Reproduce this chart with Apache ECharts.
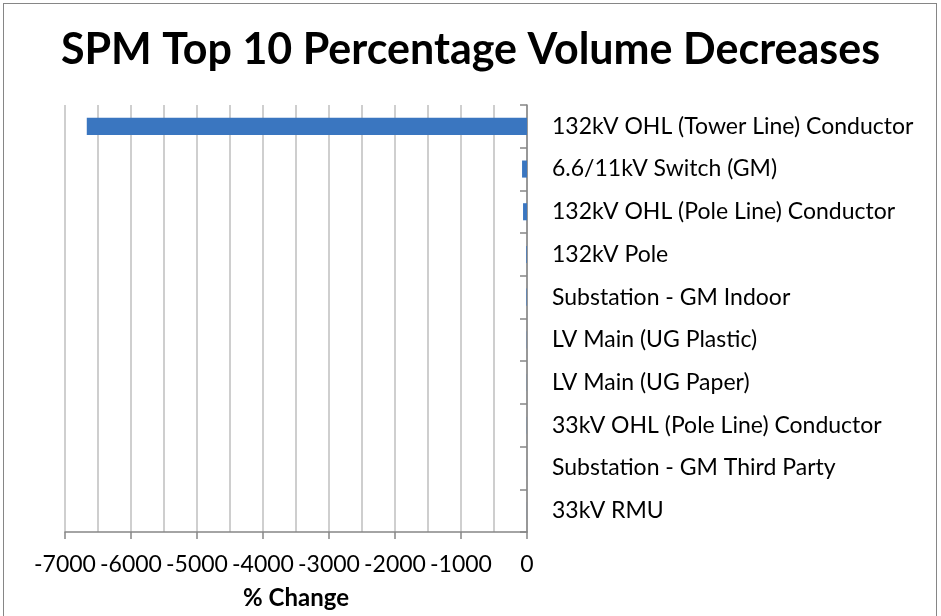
<!DOCTYPE html>
<html>
<head>
<meta charset="utf-8">
<script src="https://cdn.jsdelivr.net/npm/echarts@6/dist/echarts.min.js"></script>
<style>
  html, body { margin: 0; padding: 0; background: #fff; }
  #wrap { position: absolute; left: 3px; top: 3px; width: 934px; height: 620px; border: 1px solid #868686; box-sizing: border-box; }
  #chart { position: absolute; left: 0; top: 0; width: 941px; height: 616px; }
</style>
</head>
<body>
<div id="wrap"></div>
<div id="chart"></div>
<script>
// Asset categories, top to bottom
const categories = [
  '132kV OHL (Tower Line) Conductor',
  '6.6/11kV Switch (GM)',
  '132kV OHL (Pole Line) Conductor',
  '132kV Pole',
  'Substation - GM Indoor',
  'LV Main (UG Plastic)',
  'LV Main (UG Paper)',
  '33kV OHL (Pole Line) Conductor',
  'Substation - GM Third Party',
  '33kV RMU'
];
// Percentage change in volume
const pctChange = [-6670, -75, -60, -10, -8, -3, -2, -2, -1, -1];

const FONT = 'Lato, "Open Sans", sans-serif';

const chart = echarts.init(document.getElementById('chart'), null, { renderer: 'canvas' });
chart.setOption({
  animation: false,
  title: {
    text: 'SPM Top 10 Percentage Volume Decreases',
    left: 'center',
    top: 24,
    textStyle: { fontFamily: FONT, fontSize: 43, fontWeight: 'bold', color: '#000' }
  },
  grid: { left: 65, right: 414, top: 105, bottom: 84 },
  xAxis: {
    type: 'value',
    min: -7000,
    max: 0,
    interval: 1000,
    name: '% Change',
    nameLocation: 'middle',
    nameGap: 54,
    nameTextStyle: { fontFamily: FONT, fontSize: 24, fontWeight: 'bold', color: '#000' },
    axisLine: { show: true, lineStyle: { color: '#868686', width: 1.5 } },
    axisTick: { show: true, length: 7, lineStyle: { color: '#868686', width: 1.5 } },
    axisLabel: { fontFamily: FONT, fontSize: 23, color: '#000', margin: 21, formatter: v => String(v) },
    splitLine: { show: true, lineStyle: { color: '#bfbfbf', width: 1.5 } },
    minorTick: { show: false, splitNumber: 2 },
    minorSplitLine: { show: true, lineStyle: { color: '#bfbfbf', width: 1.5 } }
  },
  yAxis: {
    type: 'category',
    data: categories,
    inverse: true,
    position: 'right',
    axisLine: { show: true, onZero: false, lineStyle: { color: '#868686', width: 1.5 } },
    axisTick: { show: true, inside: true, length: 7, alignWithLabel: false, lineStyle: { color: '#868686', width: 1.5 } },
    axisLabel: { fontFamily: FONT, fontSize: 23, color: '#000', margin: 25, align: 'left' },
    splitLine: { show: false }
  },
  series: [{
    type: 'bar',
    data: pctChange,
    barWidth: '40%',
    itemStyle: { color: '#3a76c0' }
  }]
});
</script>
</body>
</html>
